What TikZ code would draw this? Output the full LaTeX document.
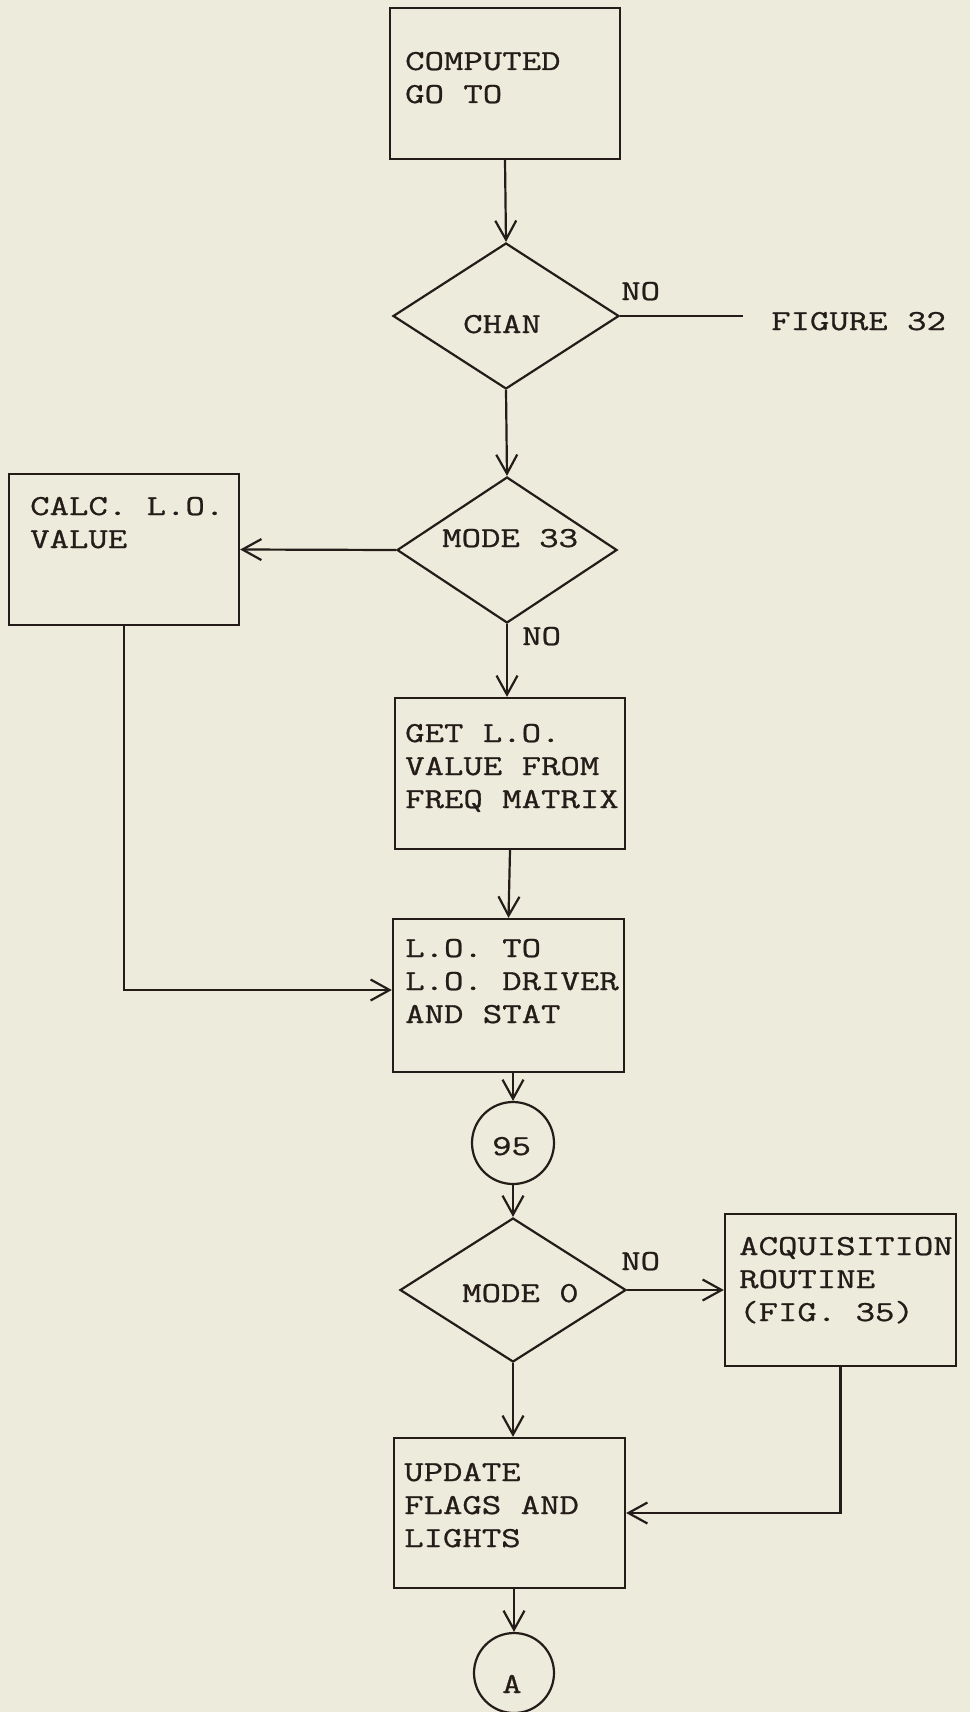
\documentclass[tikz,border=0pt]{standalone}
\usepackage{fontspec}
\usetikzlibrary{shapes.geometric,arrows.meta}
\newfontfamily\tw[FakeStretch=1.3,FakeBold=0.9]{Latin Modern Mono}
\definecolor{paper}{RGB}{237,235,219}
\definecolor{ink}{RGB}{35,28,24}
\tikzset{
  boxn/.style={draw=ink, line width=2.3pt, rectangle, inner sep=0pt},
  dia/.style={draw=ink, line width=2.2pt, diamond, inner sep=0pt},
  circ/.style={draw=ink, line width=2.2pt, circle, inner sep=0pt},
  txt/.style={text=ink, font=\tw\fontsize{29}{33}\selectfont, inner sep=0pt, anchor=base west},
  conn/.style={draw=ink, line width=2.2pt},
  arr/.style={conn, -{Straight Barb[length=19pt,width=21pt,line width=2.2pt]}},
}
\begin{document}
\begin{tikzpicture}[x=1pt,y=-1pt]
\useasboundingbox[fill=paper] (0,0) rectangle (970,1712);
% boxes and decisions
\node[boxn, minimum width=230pt, minimum height=151pt] (comp) at (505,83.5) {};
\node[txt] (compt) at (405,70) {\vtop{\hbox{COMPUTED}\hbox{GO TO}}};
\node[dia, minimum width=226pt, minimum height=146pt] (chan) at (506,316) {};
\node[txt] (chant) at (463,333) {CHAN};
\node[txt] (no1) at (621,300) {NO};
\coordinate (figend) at (743,316);
\node[txt] (fig) at (771,330) {FIGURE 32};
\node[dia, minimum width=220pt, minimum height=146pt] (m33) at (507,550) {};
\node[txt] (m33t) at (442,547) {MODE 33};
\node[boxn, minimum width=230pt, minimum height=151pt] (calc) at (124,549.5) {};
\node[txt] (calct) at (30,515) {\vtop{\hbox{CALC. L.O.}\hbox{VALUE}}};
\node[txt] (no2) at (522,645) {NO};
\node[boxn, minimum width=230pt, minimum height=151pt] (get) at (510,773.5) {};
\node[txt] (gett) at (405,742) {\vtop{\hbox{GET L.O.}\hbox{VALUE FROM}\hbox{FREQ MATRIX}}};
\node[boxn, minimum width=231pt, minimum height=153pt] (lo) at (508.5,995.5) {};
\node[txt] (lot) at (405,957) {\vtop{\hbox{L.O. TO}\hbox{L.O. DRIVER}\hbox{AND STAT}}};
\node[circ, minimum size=82pt] (c95) at (513,1143) {};
\node[txt] (c95t) at (492,1155) {95};
\node[dia, minimum width=226pt, minimum height=144pt] (m0) at (513,1290) {};
\node[txt] (m0t) at (462,1302) {MODE 0};
\node[txt] (no3) at (621,1270) {NO};
\node[boxn, minimum width=231pt, minimum height=152pt] (acq) at (840.5,1290) {};
\node[txt] (acqt) at (739,1255) {\vtop{\hbox{ACQUISITION}\hbox{ROUTINE}\hbox{(FIG. 35)}}};
\node[boxn, minimum width=231pt, minimum height=150pt] (upd) at (509.5,1513) {};
\node[txt] (updt) at (404,1481) {\vtop{\hbox{UPDATE}\hbox{FLAGS AND}\hbox{LIGHTS}}};
\node[circ, minimum size=80pt] (ca) at (514,1673) {};
\node[txt] (cat) at (502,1693) {A};
% connectors
\draw[arr] (comp.south) -- (chan.north);
\draw[conn] (chan.east) -- (figend);
\draw[arr] (chan.south) -- (m33.north);
\draw[arr] (m33.west) -- (calc.east);
\draw[arr] (m33.south) -- (m33.south |- get.north);
\draw[arr] (calc.south) |- ([yshift=5.5pt]lo.west);
\draw[arr] (get.south) -- (lo.north);
\draw[arr] (c95.north |- lo.south) -- (c95.north);
\draw[arr] (c95.south) -- (m0.north);
\draw[arr] (m0.east) -- (acq.west);
\draw[arr] (m0.south) -- (m0.south |- upd.north);
\draw[arr] (acq.south) |- (upd.east);
\draw[arr] (ca.north |- upd.south) -- (ca.north);
\end{tikzpicture}
\end{document}
